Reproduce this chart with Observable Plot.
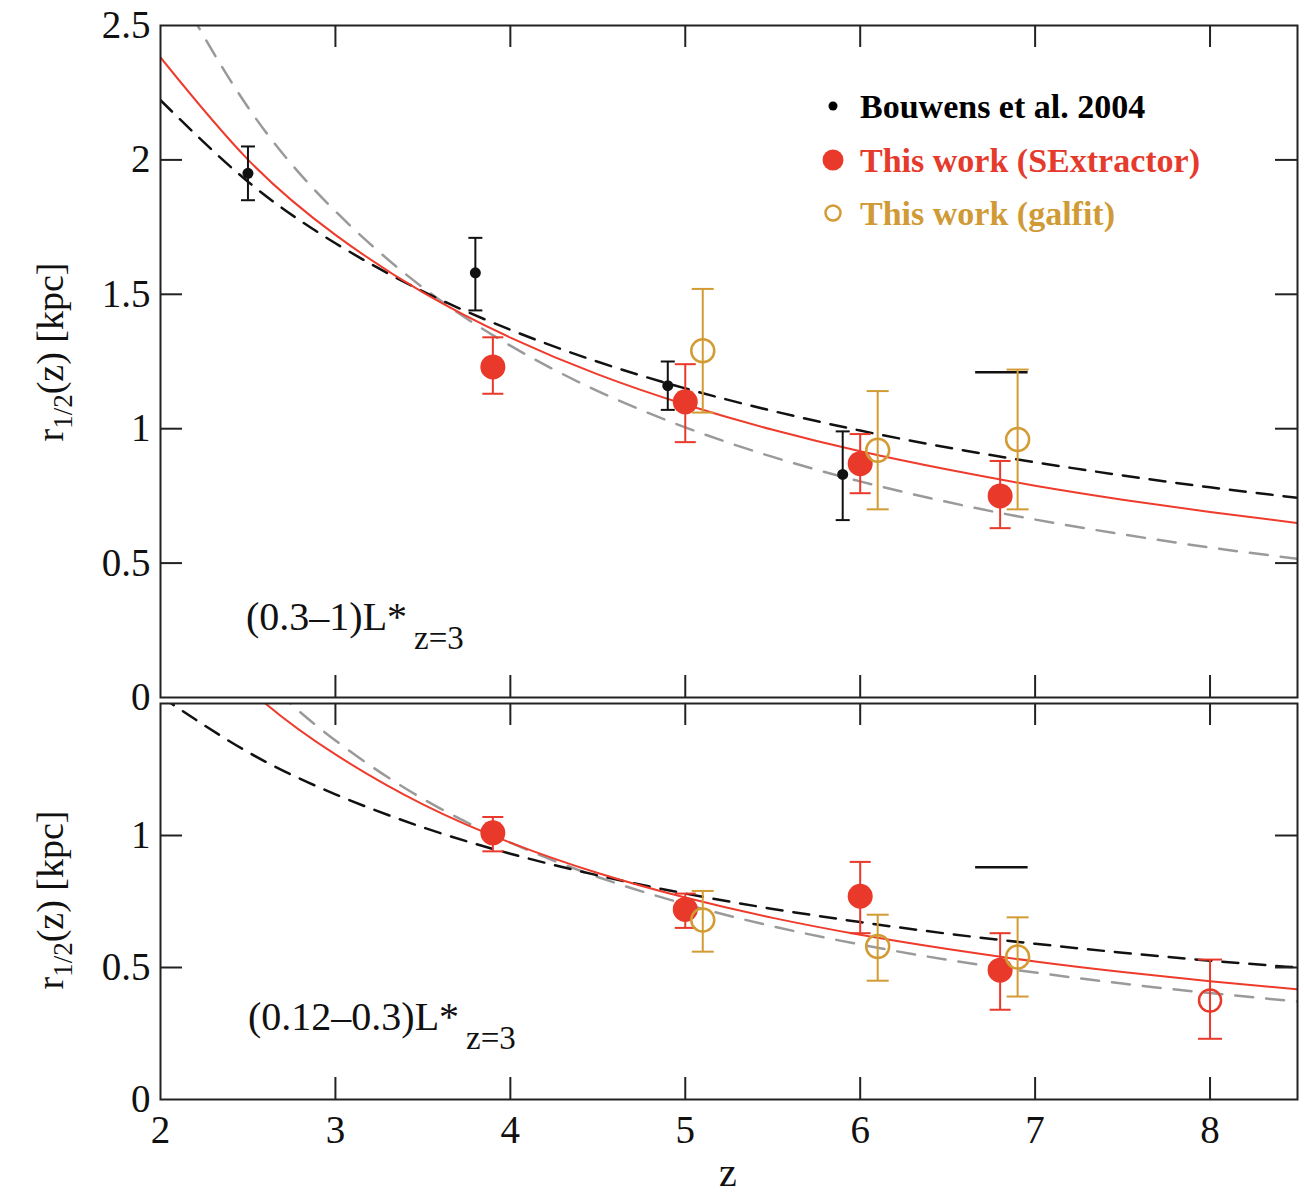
<!DOCTYPE html>
<html><head><meta charset="utf-8">
<script src="https://cdn.jsdelivr.net/npm/d3@7"></script>
<script src="https://cdn.jsdelivr.net/npm/@observablehq/plot@0.6"></script>
<style>
body{margin:0;background:#fff;}
#chart{position:relative;width:1304px;height:1193px;}
#chart svg{display:block;overflow:visible;}
</style></head><body><div id="chart"></div>
<script>
// ---- curves (values at sample redshifts) ----
const zGrid   = [2, 2.5, 3, 3.5, 4, 4.5, 5, 5.5, 6, 6.5, 7, 7.5, 8, 8.5];
const topFit  = [2.381, 2.001, 1.721, 1.507, 1.339, 1.202, 1.090, 0.996, 0.916, 0.848, 0.788, 0.736, 0.690, 0.649];
const topM1   = [2.222, 1.919, 1.690, 1.511, 1.368, 1.249, 1.150, 1.066, 0.993, 0.930, 0.875, 0.826, 0.782, 0.743];
const topM15  = [2.746, 2.196, 1.809, 1.525, 1.309, 1.140, 1.005, 0.895, 0.804, 0.727, 0.662, 0.607, 0.558, 0.516];
const botFit  = [1.910, 1.558, 1.307, 1.118, 0.973, 0.858, 0.765, 0.688, 0.624, 0.570, 0.523, 0.483, 0.448, 0.417];
const botM1   = [1.528, 1.316, 1.156, 1.031, 0.931, 0.849, 0.780, 0.722, 0.672, 0.628, 0.590, 0.556, 0.526, 0.500];
const botM15  = [2.093, 1.661, 1.360, 1.139, 0.973, 0.843, 0.740, 0.656, 0.587, 0.529, 0.481, 0.439, 0.403, 0.371];

// ---- top panel points: (0.3-1) L*
const bouZ  = [2.5, 3.8, 4.9, 5.9];
const bouR  = [1.95, 1.58, 1.16, 0.83];
const bouLo = [1.85, 1.44, 1.07, 0.66];
const bouHi = [2.05, 1.71, 1.25, 0.99];
const sexTopZ  = [3.9, 5.0, 6.0, 6.8];
const sexTopR  = [1.23, 1.10, 0.87, 0.75];
const sexTopLo = [1.13, 0.95, 0.76, 0.63];
const sexTopHi = [1.34, 1.24, 0.98, 0.88];
const galTopZ  = [5.1, 6.1, 6.9];
const galTopR  = [1.29, 0.92, 0.96];
const galTopLo = [1.06, 0.70, 0.70];
const galTopHi = [1.52, 1.14, 1.22];
const barTopY = [1.21]; const barZ1 = [6.66]; const barZ2 = [6.96];

// ---- bottom panel points: (0.12-0.3) L*
const sexBotZ  = [3.9, 5.0, 6.0, 6.8];
const sexBotR  = [1.01, 0.72, 0.77, 0.49];
const sexBotLo = [0.94, 0.65, 0.63, 0.34];
const sexBotHi = [1.07, 0.78, 0.90, 0.63];
const openBotZ  = [8.0];
const openBotR  = [0.375];
const openBotLo = [0.23];
const openBotHi = [0.53];
const galBotZ  = [5.1, 6.1, 6.9];
const galBotR  = [0.68, 0.58, 0.54];
const galBotLo = [0.56, 0.45, 0.39];
const galBotHi = [0.79, 0.70, 0.69];
const barBotY = [0.88];

const xTickLabels = [2, 3, 4, 5, 6, 7, 8];
const xTickMarks = [3, 4, 5, 6, 7, 8];
const topYLabels = [0, 0.5, 1, 1.5, 2, 2.5];
const topYMarks = [0.5, 1, 1.5, 2];
const botYLabels = [0, 0.5, 1];
const botYMarks = [0.5, 1];

// ---- styling ----
const FONT = '"Liberation Serif","Times New Roman",serif';
const RED = "#e8392a", GOLD = "#d39b34", GREY = "#9a9a9a", BLACK = "#111";
const W = 1304, ML = 160, MR = 7, TICK = 22;
const XMIN = 2, XMAX = 8.5;

const capSym = {draw(ctx, size) { const r = Math.sqrt(size / Math.PI); ctx.moveTo(-r, 0); ctx.lineTo(r, 0); }};
const rows = (zs, rs, los, his) => zs.map((z, i) => ({z, r: rs[i], lo: los ? los[i] : null, hi: his ? his[i] : null}));
const curve = (vals) => zGrid.map((z, i) => ({z, r: vals[i]}));

function errMarks(data, color, capR, sw = 2) {
  return [
    Plot.ruleX(data, {x: "z", y1: "lo", y2: "hi", stroke: color, strokeWidth: sw}),
    Plot.dot(data, {x: "z", y: "lo", symbol: capSym, r: capR, stroke: color, fill: "none", strokeWidth: sw}),
    Plot.dot(data, {x: "z", y: "hi", symbol: capSym, r: capR, stroke: color, fill: "none", strokeWidth: sw})
  ];
}

function panel({height, mt, mb, ymax, yLabels, yMarks, fit, m1, m15, marks, showX}) {
  const ph = height - mt - mb, pw = W - ML - MR;
  const ty = TICK * ymax / ph, tx = TICK * (XMAX - XMIN) / pw;
  const lineOpts = {x: "z", y: "r", curve: "natural", clip: true};
  return Plot.plot({
    width: W, height, marginLeft: ML, marginRight: MR, marginTop: mt, marginBottom: mb,
    style: {fontFamily: FONT, fontSize: "38px", background: "transparent", overflow: "visible", color: "#111"},
    x: {domain: [XMIN, XMAX], label: null, axis: null},
    y: {domain: [0, ymax], label: null},
    marks: [
      Plot.line(curve(m15), {...lineOpts, stroke: GREY, strokeWidth: 2.5, strokeDasharray: "18,13"}),
      Plot.line(curve(m1), {...lineOpts, stroke: BLACK, strokeWidth: 2.5, strokeDasharray: "16,11"}),
      Plot.line(curve(fit), {...lineOpts, stroke: "#ee3b2b", strokeWidth: 2}),
      ...marks,
      Plot.ruleX(xTickMarks, {x: d => d, y1: 0, y2: ty, stroke: "#222", strokeWidth: 2}),
      Plot.ruleX(xTickMarks, {x: d => d, y1: ymax - ty, y2: ymax, stroke: "#222", strokeWidth: 2}),
      Plot.ruleY(yMarks, {y: d => d, x1: XMIN, x2: XMIN + tx, stroke: "#222", strokeWidth: 2}),
      Plot.ruleY(yMarks, {y: d => d, x1: XMAX - tx, x2: XMAX, stroke: "#222", strokeWidth: 2}),
      Plot.frame({stroke: "#222", strokeWidth: 2}),
      Plot.axisY({ticks: yLabels, tickSize: 0, tickPadding: 10, fontSize: 39, label: null, tickFormat: d => String(d)}),
      ...(showX ? [Plot.axisX({ticks: xTickLabels, tickSize: 0, tickPadding: 16, fontSize: 39, label: null, tickFormat: d => String(d)})] : [])
    ]
  });
}

const topMarks = [
  Plot.ruleY(barTopY, {y: d => d, x1: barZ1[0], x2: barZ2[0], stroke: BLACK, strokeWidth: 2.5}),
  ...errMarks(rows(bouZ, bouR, bouLo, bouHi), BLACK, 7),
  Plot.dot(rows(bouZ, bouR), {x: "z", y: "r", r: 5.5, fill: BLACK}),
  ...errMarks(rows(sexTopZ, sexTopR, sexTopLo, sexTopHi), RED, 10.5),
  Plot.dot(rows(sexTopZ, sexTopR), {x: "z", y: "r", r: 12.5, fill: RED}),
  ...errMarks(rows(galTopZ, galTopR, galTopLo, galTopHi), GOLD, 11),
  Plot.dot(rows(galTopZ, galTopR), {x: "z", y: "r", r: 11.5, stroke: GOLD, fill: "none", strokeWidth: 2.5})
];
const botMarks = [
  Plot.ruleY(barBotY, {y: d => d, x1: barZ1[0], x2: barZ2[0], stroke: BLACK, strokeWidth: 2.5}),
  ...errMarks(rows(sexBotZ, sexBotR, sexBotLo, sexBotHi), RED, 10.5),
  Plot.dot(rows(sexBotZ, sexBotR), {x: "z", y: "r", r: 12.5, fill: RED}),
  ...errMarks(rows(openBotZ, openBotR, openBotLo, openBotHi), RED, 12),
  Plot.dot(rows(openBotZ, openBotR), {x: "z", y: "r", r: 11, stroke: RED, fill: "none", strokeWidth: 2.5}),
  ...errMarks(rows(galBotZ, galBotR, galBotLo, galBotHi), GOLD, 11),
  Plot.dot(rows(galBotZ, galBotR), {x: "z", y: "r", r: 11.5, stroke: GOLD, fill: "none", strokeWidth: 2.5})
];

const topSvg = panel({height: 700, mt: 25, mb: 3, ymax: 2.5, yLabels: topYLabels, yMarks: topYMarks,
  fit: topFit, m1: topM1, m15: topM15, marks: topMarks, showX: false});
const botSvg = panel({height: 493, mt: 3, mb: 94, ymax: 1.5, yLabels: botYLabels, yMarks: botYMarks,
  fit: botFit, m1: botM1, m15: botM15, marks: botMarks, showX: true});
const chart = document.getElementById("chart");
chart.appendChild(topSvg);
chart.appendChild(botSvg);

// ---- text annotations ----
function yLabel(svg, cy) {
  const t = d3.select(svg).append("text")
    .attr("transform", `translate(63,${cy}) rotate(-90)`)
    .attr("text-anchor", "middle").attr("font-family", FONT).attr("font-size", 38).attr("fill", "#111");
  t.append("tspan").text("r");
  t.append("tspan").attr("font-size", 27).attr("dy", 9).text("1/2");
  t.append("tspan").attr("dy", -9).text("(z) [kpc]");
}
function lumLabel(svg, x, y, main) {
  const t = d3.select(svg).append("text").attr("x", x).attr("y", y).attr("text-anchor", "start")
    .attr("font-family", FONT).attr("font-size", 40).attr("fill", "#111");
  t.append("tspan").text(main);
  t.append("tspan").attr("font-size", 33).attr("dx", 7).attr("dy", 19).text("z=3");
}
yLabel(topSvg, 352);
yLabel(botSvg, 200);
lumLabel(topSvg, 246, 630, "(0.3\u20131)L*");
lumLabel(botSvg, 248, 330, "(0.12\u20130.3)L*");
d3.select(botSvg).append("text").attr("x", 728).attr("y", 486).attr("text-anchor", "middle")
  .attr("font-family", FONT).attr("font-size", 40).attr("fill", "#111").text("z");

// legend
const legend = [
  {label: "Bouwens et al. 2004", color: "#000", y: 106, kind: "small"},
  {label: "This work (SExtractor)", color: "#e53a2c", y: 160, kind: "filled"},
  {label: "This work (galfit)", color: "#d09a36", y: 213, kind: "open"}
];
const lg = d3.select(topSvg).append("g").attr("font-family", FONT).attr("font-size", 34)
  .attr("font-weight", "bold").attr("text-anchor", "start");
legend.forEach(d => {
  const c = lg.append("circle").attr("cx", 833).attr("cy", d.y);
  if (d.kind === "small") c.attr("r", 4.5).attr("fill", d.color);
  else if (d.kind === "filled") c.attr("r", 10.5).attr("fill", RED);
  else c.attr("r", 7.5).attr("fill", "none").attr("stroke", GOLD).attr("stroke-width", 2.5);
  lg.append("text").attr("x", 860).attr("y", d.y + 12).attr("fill", d.color).text(d.label);
});
</script></body></html>
